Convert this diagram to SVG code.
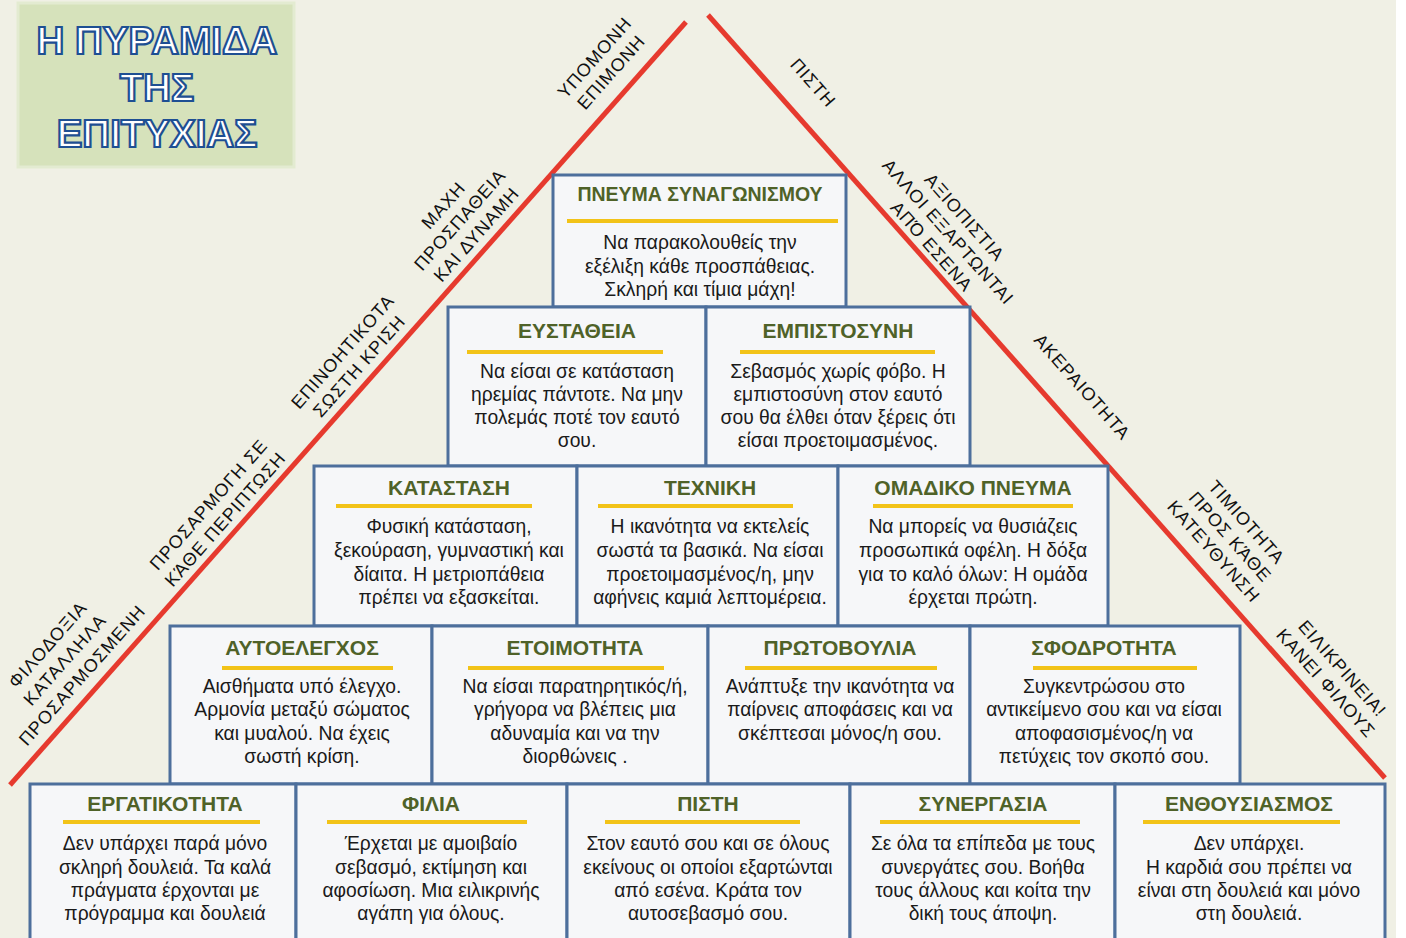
<svg xmlns="http://www.w3.org/2000/svg" width="1406" height="938" viewBox="0 0 1406 938">
<style>
.bg{fill:#f0f0e5}
.box{fill:#f6f7f9;stroke:#4d6f9c;stroke-width:3}
.t{font-family:"Liberation Sans",Arial,sans-serif;font-weight:bold;font-size:21px;fill:#4f6228;text-anchor:middle}
.t1{font-family:"Liberation Sans",Arial,sans-serif;font-weight:bold;font-size:19.5px;fill:#4f6228;text-anchor:middle}
.b{font-family:"Liberation Sans",Arial,sans-serif;font-size:19.3px;fill:#1a1a1a;text-anchor:middle}
.u{stroke:#f2c318;stroke-width:4}
.side{stroke:#e63a2e;stroke-width:5;stroke-linecap:butt}
.lbl{font-family:"Liberation Sans",Arial,sans-serif;font-size:18px;letter-spacing:1px;fill:#111;text-anchor:middle}
.ttl{font-family:"Liberation Sans",Arial,sans-serif;font-weight:bold;font-size:38.5px;fill:#ffffff;stroke:#1e4f93;stroke-width:2.2;text-anchor:middle}
</style>
<rect class="bg" x="0" y="0" width="1406" height="938"/>
<rect x="1396" y="0" width="10" height="938" fill="#ffffff"/>

<g id="title">
<rect x="18" y="3" width="276" height="164" fill="#d6e2bb" stroke="#e3ebd1" stroke-width="3"/>
<text class="ttl" x="157" y="54">Η ΠΥΡΑΜΙΔΑ</text>
<text class="ttl" x="157" y="101">ΤΗΣ</text>
<text class="ttl" x="157" y="147">ΕΠΙΤΥΧΙΑΣ</text>
</g>

<g id="connectors">
<line class="side" x1="10" y1="785" x2="686" y2="22"/>
<line class="side" x1="708" y1="15" x2="1385" y2="778"/>
</g>

<g id="side-labels">
<g transform="translate(603,65) rotate(-48.5)"><text class="lbl" y="-5">ΥΠΟΜΟΝΗ</text><text class="lbl" y="17">ΕΠΙΜΟΝΗ</text></g>
<g transform="translate(460,220) rotate(-48.5)"><text class="lbl" y="-16">ΜΑΧΗ</text><text class="lbl" y="6">ΠΡΟΣΠΑΘΕΙΑ</text><text class="lbl" y="28">ΚΑΙ ΔΥΝΑΜΗ</text></g>
<g transform="translate(351,359) rotate(-48.5)"><text class="lbl" y="-5">ΕΠΙΝΟΗΤΙΚΟΤΑ</text><text class="lbl" y="17">ΣΩΣΤΗ ΚΡΙΣΗ</text></g>
<g transform="translate(217,512) rotate(-48.5)"><text class="lbl" y="-5">ΠΡΟΣΑΡΜΟΓΗ ΣΕ</text><text class="lbl" y="17">ΚΆΘΕ ΠΕΡΙΠΤΩΣΗ</text></g>
<g transform="translate(65,660) rotate(-48.5)"><text class="lbl" y="-17">ΦΙΛΟΔΟΞΙΑ</text><text class="lbl" y="6">ΚΑΤΑΛΛΗΛΑ</text><text class="lbl" y="29">ΠΡΟΣΑΡΜΟΣΜΕΝΗ</text></g>
<g transform="translate(813,83) rotate(48.4)"><text class="lbl" y="6">ΠΙΣΤΗ</text></g>
<g transform="translate(948,232) rotate(48.4)"><text class="lbl" y="-16">ΑΞΙΟΠΙΣΤΙΑ</text><text class="lbl" y="6">ΑΛΛΟΙ ΕΞΑΡΤΩΝΤΑΙ</text><text class="lbl" y="28">ΑΠΌ ΕΣΕΝΑ</text></g>
<g transform="translate(1082,387) rotate(48.4)"><text class="lbl" y="6">ΑΚΕΡΑΙΟΤΗΤΑ</text></g>
<g transform="translate(1230,537) rotate(48.4)"><text class="lbl" y="-16">ΤΙΜΙΟΤΗΤΑ</text><text class="lbl" y="6">ΠΡΟΣ ΚΆΘΕ</text><text class="lbl" y="28">ΚΑΤΕΥΘΥΝΣΗ</text></g>
<g transform="translate(1334,676) rotate(48.4)"><text class="lbl" y="-5">ΕΙΛΙΚΡΙΝΕΙΑ!</text><text class="lbl" y="17">ΚΑΝΕΙ ΦΙΛΟΥΣ</text></g>
</g>

<!-- Row 1 -->
<g id="pneuma-synagonismou">
<rect class="box" x="553" y="175" width="293" height="132"/>
<text class="t1" x="700" y="201">ΠΝΕΥΜΑ ΣΥΝΑΓΩΝΙΣΜΟΥ</text>
<line class="u" x1="567" y1="221" x2="838" y2="221"/>
<text class="b" x="700" y="249">Να παρακολουθείς την</text>
<text class="b" x="700" y="273">εξέλιξη κάθε προσπάθειας.</text>
<text class="b" x="700" y="296">Σκληρή  και τίμια μάχη!</text>
</g>

<!-- Row 2 -->
<g id="eystatheia">
<rect class="box" x="448" y="307" width="258" height="159"/>
<text class="t" x="577" y="338">ΕΥΣΤΑΘΕΙΑ</text>
<line class="u" x1="467" y1="352" x2="663" y2="352"/>
<text class="b" x="577" y="378">Να είσαι σε κατάσταση</text>
<text class="b" x="577" y="401">ηρεμίας πάντοτε. Να μην</text>
<text class="b" x="577" y="424">πολεμάς ποτέ τον εαυτό</text>
<text class="b" x="577" y="447">σου.</text>
</g>
<g id="empistosyni">
<rect class="box" x="706" y="307" width="264" height="159"/>
<text class="t" x="838" y="338">ΕΜΠΙΣΤΟΣΥΝΗ</text>
<line class="u" x1="740" y1="352" x2="935" y2="352"/>
<text class="b" x="838" y="378">Σεβασμός χωρίς φόβο. Η</text>
<text class="b" x="838" y="401">εμπιστοσύνη στον εαυτό</text>
<text class="b" x="838" y="424">σου θα έλθει όταν ξέρεις ότι</text>
<text class="b" x="838" y="447">είσαι προετοιμασμένος.</text>
</g>

<!-- Row 3 -->
<g id="katastasi">
<rect class="box" x="314" y="466" width="263" height="160"/>
<text class="t" x="449" y="495">ΚΑΤΑΣΤΑΣΗ</text>
<line class="u" x1="336" y1="506" x2="532" y2="506"/>
<text class="b" x="449" y="533">Φυσική κατάσταση,</text>
<text class="b" x="449" y="557">ξεκούραση, γυμναστική και</text>
<text class="b" x="449" y="581">δίαιτα. Η μετριοπάθεια</text>
<text class="b" x="449" y="604">πρέπει να εξασκείται.</text>
</g>
<g id="texniki">
<rect class="box" x="577" y="466" width="261" height="160"/>
<text class="t" x="710" y="495">ΤΕΧΝΙΚΗ</text>
<line class="u" x1="598" y1="506" x2="793" y2="506"/>
<text class="b" x="710" y="533">Η ικανότητα να εκτελείς</text>
<text class="b" x="710" y="557">σωστά τα βασικά. Να είσαι</text>
<text class="b" x="710" y="581">προετοιμασμένος/η,  μην</text>
<text class="b" x="710" y="604">αφήνεις καμιά λεπτομέρεια.</text>
</g>
<g id="omadiko-pneuma">
<rect class="box" x="838" y="466" width="270" height="160"/>
<text class="t" x="973" y="495">ΟΜΑΔΙΚΟ ΠΝΕΥΜΑ</text>
<line class="u" x1="873" y1="506" x2="1073" y2="506"/>
<text class="b" x="973" y="533">Να μπορείς να θυσιάζεις</text>
<text class="b" x="973" y="557">προσωπικά οφέλη. Η δόξα</text>
<text class="b" x="973" y="581">για το καλό όλων: Η ομάδα</text>
<text class="b" x="973" y="604">έρχεται πρώτη.</text>
</g>

<!-- Row 4 -->
<g id="aytoelegxos">
<rect class="box" x="170" y="626" width="262" height="158"/>
<text class="t" x="302" y="655">ΑΥΤΟΕΛΕΓΧΟΣ</text>
<line class="u" x1="222" y1="668" x2="393" y2="668"/>
<text class="b" x="302" y="693">Αισθήματα υπό έλεγχο.</text>
<text class="b" x="302" y="716">Αρμονία μεταξύ σώματος</text>
<text class="b" x="302" y="740">και μυαλού. Να έχεις</text>
<text class="b" x="302" y="763">σωστή κρίση.</text>
</g>
<g id="etoimotita">
<rect class="box" x="432" y="626" width="276" height="158"/>
<text class="t" x="575" y="655">ΕΤΟΙΜΟΤΗΤΑ</text>
<line class="u" x1="468" y1="668" x2="664" y2="668"/>
<text class="b" x="575" y="693">Να είσαι παρατηρητικός/ή,</text>
<text class="b" x="575" y="716">γρήγορα να βλέπεις μια</text>
<text class="b" x="575" y="740">αδυναμία και να την</text>
<text class="b" x="575" y="763">διορθώνεις .</text>
</g>
<g id="protovoulia">
<rect class="box" x="708" y="626" width="262" height="158"/>
<text class="t" x="840" y="655">ΠΡΩΤΟΒΟΥΛΙΑ</text>
<line class="u" x1="745" y1="668" x2="937" y2="668"/>
<text class="b" x="840" y="693">Ανάπτυξε την ικανότητα να</text>
<text class="b" x="840" y="716">παίρνεις αποφάσεις και να</text>
<text class="b" x="840" y="740">σκέπτεσαι μόνος/η σου.</text>
</g>
<g id="sfodrotita">
<rect class="box" x="970" y="626" width="270" height="158"/>
<text class="t" x="1104" y="655">ΣΦΟΔΡΟΤΗΤΑ</text>
<line class="u" x1="1033" y1="668" x2="1197" y2="668"/>
<text class="b" x="1104" y="693">Συγκεντρώσου στο</text>
<text class="b" x="1104" y="716">αντικείμενο σου και να είσαι</text>
<text class="b" x="1104" y="740">αποφασισμένος/η να</text>
<text class="b" x="1104" y="763">πετύχεις τον σκοπό σου.</text>
</g>

<!-- Row 5 -->
<g id="ergatikotita">
<rect class="box" x="30" y="784" width="266" height="180"/>
<text class="t" x="165" y="811">ΕΡΓΑΤΙΚΟΤΗΤΑ</text>
<line class="u" x1="63" y1="822" x2="260" y2="822"/>
<text class="b" x="165" y="850">Δεν υπάρχει παρά μόνο</text>
<text class="b" x="165" y="874">σκληρή δουλειά. Τα καλά</text>
<text class="b" x="165" y="897">πράγματα έρχονται με</text>
<text class="b" x="165" y="920">πρόγραμμα και δουλειά</text>
</g>
<g id="filia">
<rect class="box" x="296" y="784" width="271" height="180"/>
<text class="t" x="431" y="811">ΦΙΛΙΑ</text>
<line class="u" x1="327" y1="822" x2="527" y2="822"/>
<text class="b" x="431" y="850">Έρχεται με αμοιβαίο</text>
<text class="b" x="431" y="874">σεβασμό, εκτίμηση και</text>
<text class="b" x="431" y="897">αφοσίωση. Μια ειλικρινής</text>
<text class="b" x="431" y="920">αγάπη για όλους.</text>
</g>
<g id="pisti">
<rect class="box" x="567" y="784" width="283" height="180"/>
<text class="t" x="708" y="811">ΠΙΣΤΗ</text>
<line class="u" x1="605" y1="822" x2="800" y2="822"/>
<text class="b" x="708" y="850">Στον εαυτό σου και σε όλους</text>
<text class="b" x="708" y="874">εκείνους οι οποίοι εξαρτώνται</text>
<text class="b" x="708" y="897">από εσένα. Κράτα τον</text>
<text class="b" x="708" y="920">αυτοσεβασμό σου.</text>
</g>
<g id="synergasia">
<rect class="box" x="850" y="784" width="265" height="180"/>
<text class="t" x="983" y="811">ΣΥΝΕΡΓΑΣΙΑ</text>
<line class="u" x1="880" y1="822" x2="1080" y2="822"/>
<text class="b" x="983" y="850">Σε όλα τα επίπεδα με τους</text>
<text class="b" x="983" y="874">συνεργάτες σου. Βοήθα</text>
<text class="b" x="983" y="897">τους άλλους και κοίτα την</text>
<text class="b" x="983" y="920">δική τους άποψη.</text>
</g>
<g id="enthousiasmos">
<rect class="box" x="1115" y="784" width="270" height="180"/>
<text class="t" x="1249" y="811">ΕΝΘΟΥΣΙΑΣΜΟΣ</text>
<line class="u" x1="1143" y1="822" x2="1340" y2="822"/>
<text class="b" x="1249" y="850">Δεν υπάρχει.</text>
<text class="b" x="1249" y="874">Η καρδιά σου πρέπει να</text>
<text class="b" x="1249" y="897">είναι στη δουλειά και μόνο</text>
<text class="b" x="1249" y="920">στη δουλειά.</text>
</g>
</svg>
